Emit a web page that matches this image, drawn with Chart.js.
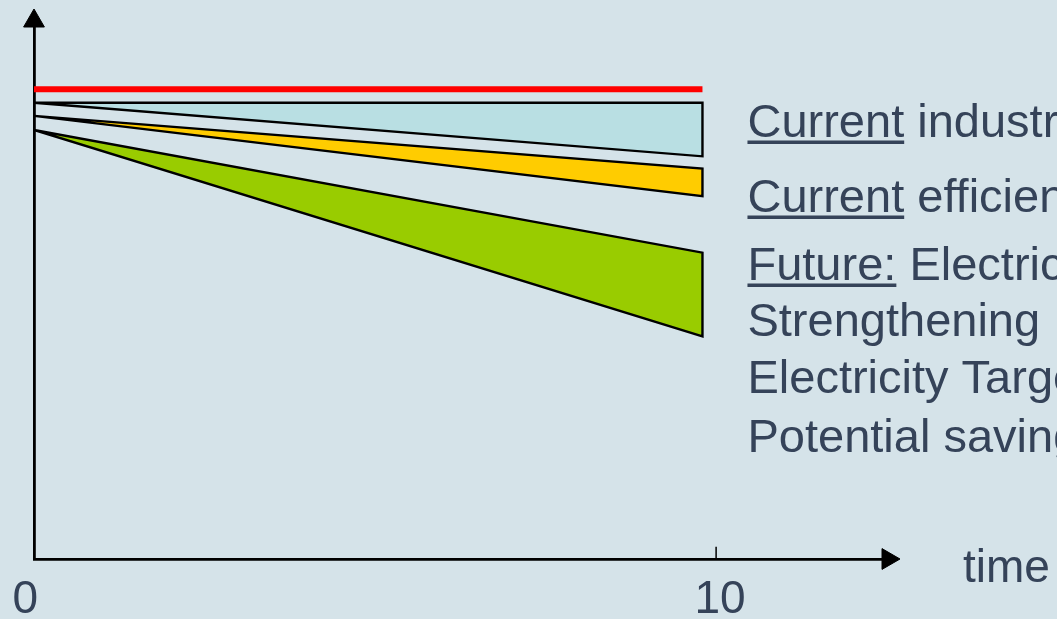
<!DOCTYPE html>
<html>
<head>
<meta charset="utf-8">
<script src="https://cdn.jsdelivr.net/npm/chart.js@4.4.0/dist/chart.umd.min.js"></script>
<style>
  html, body { margin: 0; padding: 0; background: #d5e3e9; }
  #savingsChart { display: block; background: #d5e3e9; }
</style>
</head>
<body>
<canvas id="savingsChart" width="1057" height="619"></canvas>
<script>
// values (arbitrary units, red baseline = 100)
const timeTicks = [0, 10];
const timeRange = [0, 9.8];              // start and end of every band
const baseline = [100, 100];             // red line
const industryTop = [97.1, 97.1];
const industryBottom = [97.1, 85.7];
const efficiencyTop = [94.3, 83.1];
const efficiencyBottom = [94.3, 77.2];
const futureTop = [91.3, 65.2];
const futureBottom = [91.3, 47.4];
const xMax = 12.52;
const yMax = 114.5;

const noteUnderlined = ['Current', 'Current', 'Future:', '', '', ''];
const noteRest = [' industry practice', ' efficiency programmes', ' Electricity',
                  'Strengthening', 'Electricity Targets', 'Potential savings'];
const axisName = 'time';

const textColor = '#354359';
const font = '"Liberation Sans", Arial, sans-serif';

function band(top, bottom) {
    return [
        { x: timeRange[0], y: top[0] },
        { x: timeRange[1], y: top[1] },
        { x: timeRange[1], y: bottom[1] },
        { x: timeRange[0], y: bottom[0] },
        { x: timeRange[0], y: top[0] }
    ];
}

function bandSet(top, bottom, colour) {
    return {
        data: band(top, bottom),
        fill: 'shape',
        backgroundColor: colour,
        borderColor: '#000',
        borderWidth: 2.4,
        borderJoinStyle: 'miter',
        pointRadius: 0
    };
}

const notesPlugin = {
    id: 'notes',
    afterDraw(chart) {
        const ctx = chart.ctx;
        const xs = chart.scales.x;
        const left = xs.getPixelForValue(timeRange[1]) + 45;
        const baselines = [137, 212, 280, 336, 393, 452];
        ctx.save();
        ctx.font = '47px ' + font;
        ctx.fillStyle = textColor;
        ctx.textBaseline = 'alphabetic';
        ctx.textAlign = 'left';
        noteRest.forEach((rest, i) => {
            const u = noteUnderlined[i];
            const y = baselines[i];
            let x = left;
            if (u) {
                ctx.fillText(u, x, y);
                const w = ctx.measureText(u).width;
                ctx.fillRect(x, y + 3.5, w, 3.5);
                x += w;
            }
            ctx.fillText(rest, x, y);
        });
        ctx.font = '46px ' + font;
        ctx.fillText(axisName, 963, 582);
        ctx.restore();
    }
};

const ctx = document.getElementById('savingsChart').getContext('2d');

const chart = new Chart(ctx, {
    type: 'line',
    data: {
        datasets: [
            {
                data: timeRange.map((t, i) => ({ x: t, y: baseline[i] })),
                borderColor: '#ff0000',
                borderWidth: 6,
                pointRadius: 0,
                fill: false
            },
            bandSet(industryTop, industryBottom, '#b9dfe3'),
            bandSet(efficiencyTop, efficiencyBottom, '#ffcc00'),
            bandSet(futureTop, futureBottom, '#99cc00'),
            {
                // small tick on the time axis at 10
                data: [{ x: timeTicks[1], y: 0 }, { x: timeTicks[1], y: 2.6 }],
                borderColor: '#000',
                borderWidth: 1.5,
                pointRadius: 0,
                fill: false
            },
            {
                // arrow heads
                data: [{ x: 0, y: yMax }],
                showLine: false,
                pointStyle: 'triangle',
                pointRadius: 12,
                pointRotation: 0,
                pointBackgroundColor: '#000',
                pointBorderColor: '#000',
                pointBorderWidth: 1,
                clip: false
            },
            {
                data: [{ x: xMax, y: 0 }],
                showLine: false,
                pointStyle: 'triangle',
                pointRadius: 12,
                pointRotation: 90,
                pointBackgroundColor: '#000',
                pointBorderColor: '#000',
                pointBorderWidth: 1,
                clip: false
            }
        ]
    },
    options: {
        responsive: false,
        animation: false,
        devicePixelRatio: 1,
        layout: { padding: { top: 21, right: 1057 - 888, left: 0, bottom: 0 } },
        plugins: {
            legend: { display: false },
            tooltip: { enabled: false }
        },
        scales: {
            x: {
                type: 'linear',
                min: 0,
                max: xMax,
                grid: { display: false },
                border: { display: true, color: '#000', width: 2.8 },
                afterBuildTicks: (scale) => { scale.ticks = timeTicks.map(v => ({ value: v })); },
                afterFit: (scale) => { scale.height = 60; },
                ticks: {
                    color: textColor,
                    font: { family: font, size: 46 },
                    padding: 6,
                    labelOffset: 4,
                    maxRotation: 0,
                    callback: (v) => v === 0 ? '0  ' : String(v)
                }
            },
            y: {
                type: 'linear',
                min: 0,
                max: yMax,
                grid: { display: false },
                border: { display: true, color: '#000', width: 2.8 },
                ticks: { display: false },
                afterFit: (scale) => { scale.width = 34; }
            }
        }
    },
    plugins: [notesPlugin]
});
</script>
</body>
</html>
